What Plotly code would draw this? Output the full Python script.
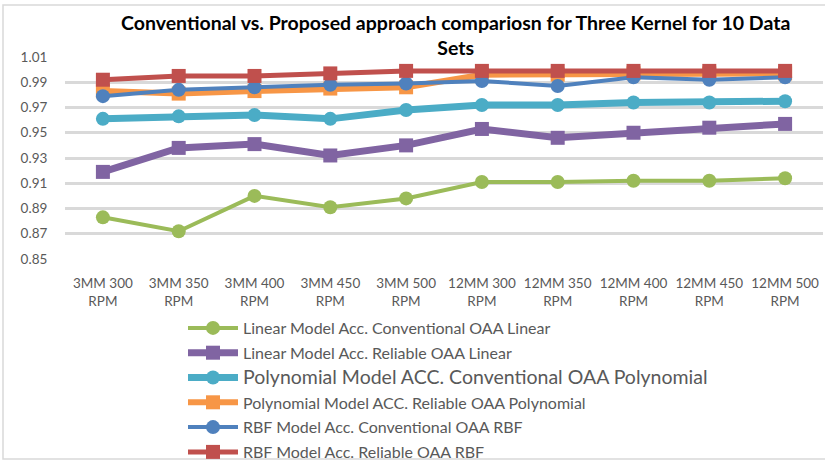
import plotly.graph_objects as go

categories = ["3MM 300<br>RPM", "3MM 350<br>RPM", "3MM 400<br>RPM", "3MM 450<br>RPM",
              "3MM 500<br>RPM", "12MM 300<br>RPM", "12MM 350<br>RPM", "12MM 400<br>RPM",
              "12MM 450<br>RPM", "12MM 500<br>RPM"]

linear_conventional = [0.883, 0.872, 0.900, 0.891, 0.898, 0.911, 0.911, 0.912, 0.912, 0.914]
linear_reliable = [0.919, 0.938, 0.941, 0.932, 0.940, 0.953, 0.946, 0.950, 0.954, 0.957]
poly_conventional = [0.961, 0.963, 0.964, 0.961, 0.968, 0.972, 0.972, 0.974, 0.974, 0.975]
poly_reliable = [0.983, 0.981, 0.983, 0.985, 0.986, 0.996, 0.996, 0.997, 0.997, 0.997]
rbf_conventional = [0.979, 0.984, 0.986, 0.988, 0.989, 0.991, 0.987, 0.994, 0.992, 0.994]
rbf_reliable = [0.992, 0.995, 0.995, 0.997, 0.999, 0.999, 0.999, 0.999, 0.999, 0.999]

series = [
    ("Linear Model Acc. Conventional OAA Linear", linear_conventional, "#9BBB59", 4, "circle", 14, 16),
    ("Linear Model Acc. Reliable OAA Linear", linear_reliable, "#8064A2", 7, "square", 14, 16),
    ("Polynomial Model ACC. Conventional OAA Polynomial", poly_conventional, "#4BACC6", 7, "circle", 14, 19.5),
    ("Polynomial Model ACC. Reliable OAA Polynomial", poly_reliable, "#F79646", 6, "square", 14, 16),
    ("RBF Model Acc. Conventional OAA RBF", rbf_conventional, "#4F81BD", 4, "circle", 14, 16),
    ("RBF Model Acc. Reliable OAA RBF", rbf_reliable, "#C0504D", 5, "square", 14, 16),
]

fig = go.Figure()
for i, (name, vals, color, lw, sym, ms, fs) in enumerate(series):
    fig.add_trace(go.Scatter(
        x=categories, y=vals, name=f'<span style="font-size:{fs}px">{name}</span>',
        mode="lines+markers", legendgroup=f"g{i}",
        line=dict(color=color, width=lw),
        marker=dict(symbol=sym, size=ms, color=color),
        cliponaxis=False,
    ))

W, H = 825, 461
L, R, T, B = 65, 2, 57, 202
pw, ph = W - L - R, H - T - B


def px_x(p):
    return (p - L) / pw


def px_y(p):
    return (H - B - p) / ph


fig.update_layout(
    width=W, height=H,
    margin=dict(l=L, r=R, t=T, b=B, autoexpand=False),
    paper_bgcolor="white", plot_bgcolor="white",
    font=dict(family="Lato, 'Open Sans', sans-serif", color="#595959", size=13),
    xaxis=dict(
        type="category", range=[-0.5, 9.5], showgrid=False, zeroline=False,
        showline=False, ticks="outside", ticklen=12, tickcolor="rgba(0,0,0,0)",
        tickfont=dict(size=13.5, color="#595959"),
    ),
    yaxis=dict(
        range=[0.85, 1.01], dtick=0.02, tick0=0.85, tickformat=".2f",
        showgrid=True, gridcolor="#D9D9D9", gridwidth=3, zeroline=False,
        showline=False, ticks="outside", ticklen=14, tickcolor="rgba(0,0,0,0)",
        tickfont=dict(size=13.5, color="#595959"),
    ),
    legend=dict(
        x=px_x(183), y=px_y(311), xanchor="left", yanchor="top",
        orientation="v", traceorder="grouped", tracegroupgap=1,
        itemwidth=50, font=dict(size=16, color="#595959"),
        bgcolor="rgba(0,0,0,0)",
    ),
    showlegend=True,
    annotations=[dict(
        text="Conventional vs. Proposed approach compariosn for Three Kernel for 10 Data<br>Sets",
        xref="paper", yref="paper", x=px_x(455), y=px_y(35),
        xanchor="center", yanchor="middle", showarrow=False,
        font=dict(family="Lato, 'Open Sans', sans-serif", size=19.5, color="#000000", weight="bold"),
    )],
    shapes=[dict(
        type="rect", xref="paper", yref="paper",
        x0=px_x(3), x1=px_x(832), y0=px_y(5), y1=px_y(459),
        line=dict(color="#D9D9D9", width=1.5), fillcolor="rgba(0,0,0,0)", layer="below",
    )],
)

fig.write_html("out.html")
